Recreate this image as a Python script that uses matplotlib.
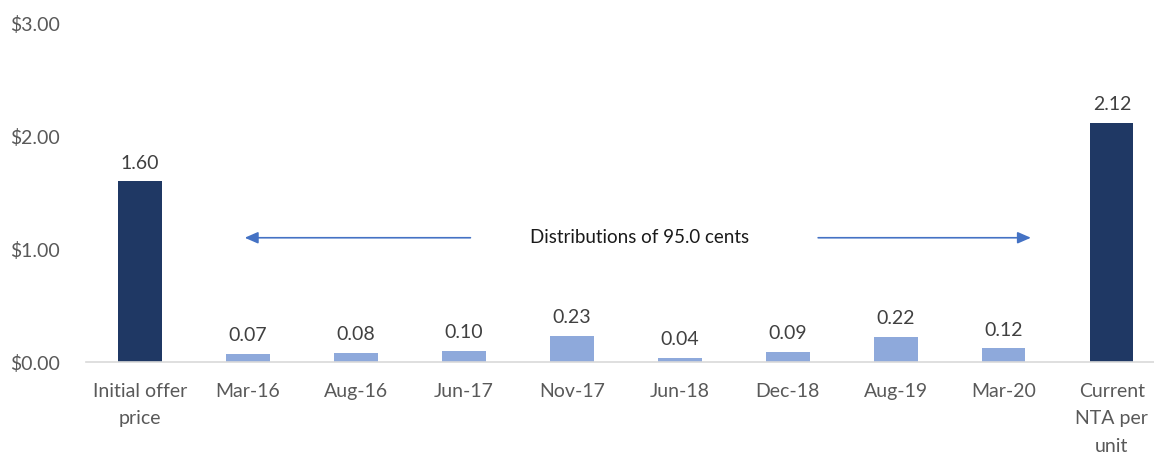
import matplotlib
matplotlib.use("Agg")
import matplotlib.pyplot as plt

categories = ["Initial offer\nprice", "Mar-16", "Aug-16", "Jun-17", "Nov-17",
              "Jun-18", "Dec-18", "Aug-19", "Mar-20", "Current\nNTA per\nunit"]
values = [1.60, 0.07, 0.08, 0.10, 0.23, 0.04, 0.09, 0.22, 0.12, 2.12]
kinds = ["total", "dist", "dist", "dist", "dist", "dist", "dist", "dist", "dist", "total"]
yticks = [0, 1, 2, 3]
annotation_text = "Distributions of 95.0 cents"

plt.rcParams['font.family'] = ['Lato', 'DejaVu Sans']

fig = plt.figure(figsize=(11.54, 4.54), dpi=100)
ax = fig.add_axes([0.0745, 0.2026, 0.9255, 0.7465])

colors = {"total": "#1F3864", "dist": "#8EA9DB"}
x = list(range(len(categories)))
bars = ax.bar(x, values, width=0.4, color=[colors[k] for k in kinds], zorder=2)

for xi, v in zip(x, values):
    ax.annotate(f"{v:.2f}", (xi, v), xytext=(0, 7), textcoords="offset points",
                ha="center", va="bottom", fontsize=14, color="#404040")

ax.set_ylim(0, 3)
ax.set_xlim(-0.5, 9.39)
ax.set_yticks(yticks)
ax.set_yticklabels([f"${t:.2f}" for t in yticks], fontsize=14, color="#595959")
ax.set_xticks(x)
ax.set_xticklabels(categories, fontsize=14, color="#595959", linespacing=1.75, va="top")
ax.tick_params(axis="both", length=0)
ax.tick_params(axis="y", pad=19)
ax.tick_params(axis="x", pad=15)
for s in ["top", "right", "left"]:
    ax.spines[s].set_visible(False)
ax.spines["bottom"].set_color("#D9D9D9")
ax.spines["bottom"].set_linewidth(1.2)

arrow_y = 1.1
ax.annotate("", xy=(0.97, arrow_y), xytext=(3.06, arrow_y),
            arrowprops=dict(arrowstyle="-|>,head_length=0.8,head_width=0.35",
                            color="#4472C4", lw=1.2, shrinkA=0, shrinkB=0))
ax.annotate("", xy=(8.25, arrow_y), xytext=(6.28, arrow_y),
            arrowprops=dict(arrowstyle="-|>,head_length=0.8,head_width=0.35",
                            color="#4472C4", lw=1.2, shrinkA=0, shrinkB=0))
ax.text(4.63, arrow_y, annotation_text, ha="center", va="center",
        fontsize=13.5, color="#1a1a1a")

fig.savefig("out.png", dpi=100)
